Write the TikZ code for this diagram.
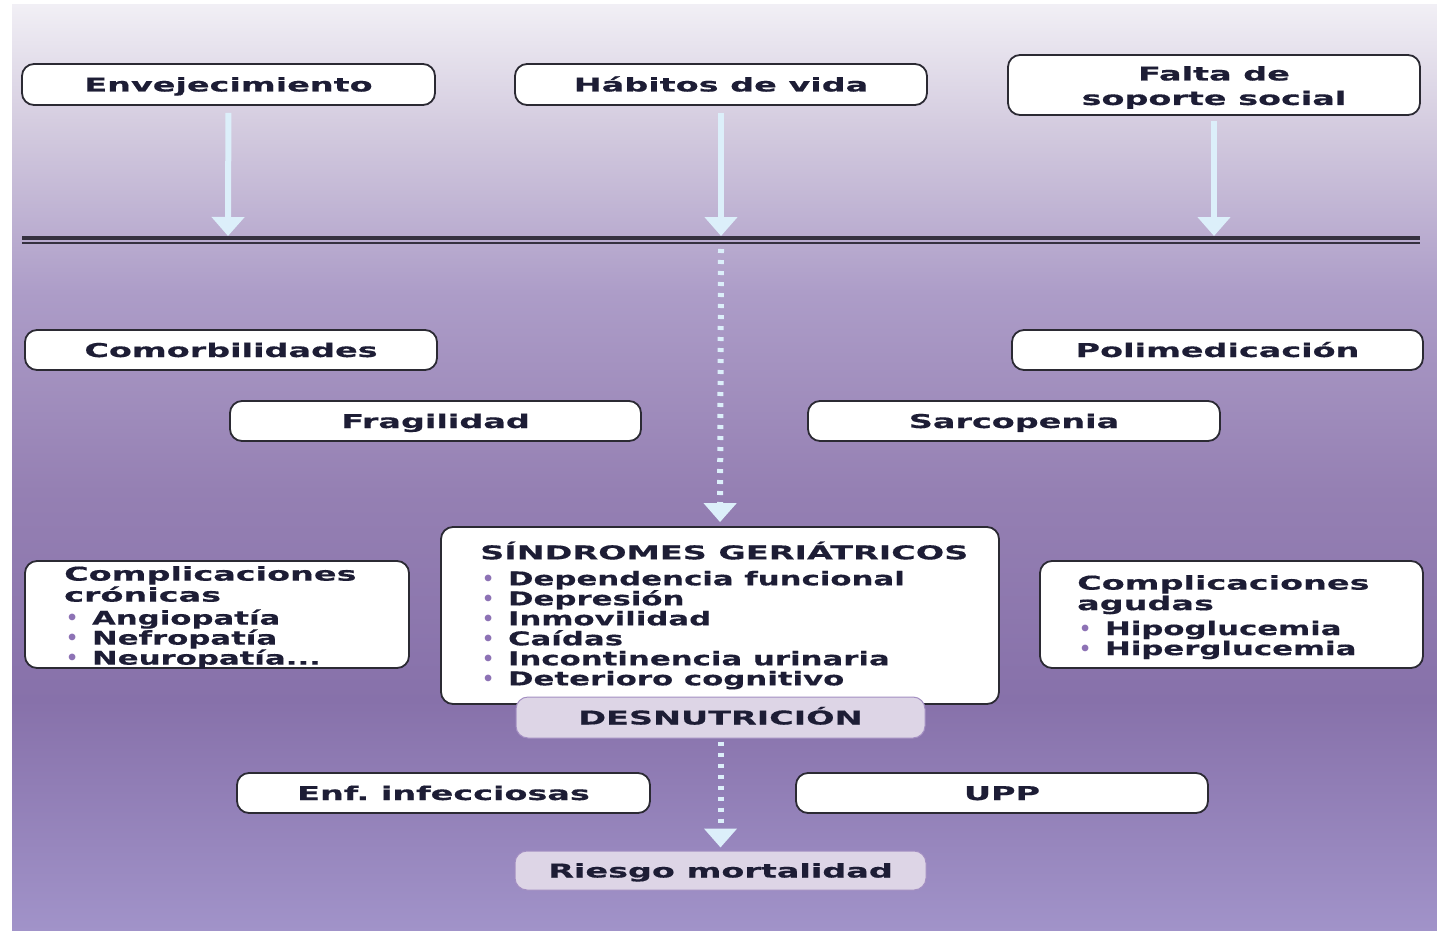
\documentclass[tikz,border=0pt]{standalone}
\usepackage{fontspec}
\setmainfont{DejaVu Sans}
\newfontfamily\headfont{DejaVu Sans}[FakeStretch=1.76, FakeBold=0.5]
\newfontfamily\itemfont{DejaVu Sans}[FakeStretch=1.62, FakeBold=0.3]
\usetikzlibrary{arrows.meta}
\frenchspacing

\definecolor{bgA}{HTML}{F1EFF5}
\definecolor{bgB}{HTML}{D5CDE0}
\definecolor{bgC}{HTML}{AD9DC8}
\definecolor{bgD}{HTML}{9580B3}
\definecolor{bgE}{HTML}{8771AA}
\definecolor{bgF}{HTML}{A193C9}
\definecolor{boxline}{HTML}{2B2A33}
\definecolor{ink}{HTML}{1D1D35}
\definecolor{bulc}{HTML}{8D72B5}
\definecolor{softfill}{HTML}{DDD5E6}
\definecolor{softline}{HTML}{A38FC2}
\definecolor{flowc}{HTML}{DCEFFA}
\definecolor{barc}{HTML}{35313F}

% list entry: purple bullet followed by the item text
\newcommand{\itm}[1]{\hspace{2pt}{\color{bulc}\fontspec{DejaVu Sans}\bfseries •}\hspace{0.72em}{\itemfont\bfseries #1}}

\tikzset{
  lbl/.style={font=\headfont\bfseries\fontsize{19}{20}\selectfont, text=ink},
  one/.style={text height=14pt, text depth=0pt},
  box/.style={lbl, draw=boxline, line width=1.8pt, fill=white,
    rounded corners=12pt, inner sep=0pt},
  softbox/.style={lbl, draw=softline, line width=1pt, fill=softfill,
    rounded corners=12pt, inner sep=0pt},
  txt/.style={lbl, inner sep=0pt, align=left, anchor=north west},
  flow/.style={draw=flowc, line width=6pt,
    -{Triangle[width=32pt,length=19pt]}},
  dotflow/.style={flow, dash pattern=on 4pt off 7pt}
}

\begin{document}
\begin{tikzpicture}[x=1pt,y=-1pt]
\useasboundingbox (0,0) rectangle (1437,931);
% page and graded backdrop
\fill[white] (0,0) rectangle (1437,931);
\shade[top color=bgA, bottom color=bgB] (12,5) rectangle (1437,121);
\shade[top color=bgB, bottom color=bgC] (12,120) rectangle (1437,291);
\shade[top color=bgC, bottom color=bgD] (12,290) rectangle (1437,491);
\shade[top color=bgD, bottom color=bgE] (12,490) rectangle (1437,701);
\shade[top color=bgE, bottom color=bgF] (12,700) rectangle (1437,931);

% top causes
\node[box, one, minimum width=413pt, minimum height=41pt] (env) at (228.5,84.5) {Envejecimiento};
\node[box, one, minimum width=412pt, minimum height=41pt] (hab) at (721,84.5) {Hábitos de vida};
\node[box, minimum width=412pt, minimum height=60pt] (falta) at (1214,85) {};
\node[lbl, align=center, inner sep=0pt] (faltat) at (1214,87.5)
  {Falta de\\[4.5pt]soporte social};

% separating double rule
\coordinate (barW) at (22,237.5);
\coordinate (barE) at (1420,237.5);
\draw[barc, line width=4pt] (barW) -- (barE);
\draw[barc, line width=2pt] ([yshift=-5.5pt]barW) -- ([yshift=-5.5pt]barE);
\coordinate (hitL) at (228,236);
\coordinate (hitM) at (721,236);
\coordinate (hitR) at (1214,236);
\coordinate (fromM) at (721,249);

\draw[flow, shorten <=7pt] (env) -- (hitL);
\draw[flow, shorten <=7pt] (hab) -- (hitM);
\draw[flow, shorten <=5pt] (falta) -- (hitR);

% middle factors
\node[box, one, minimum width=412pt, minimum height=40pt] (comor) at (231,350) {Comorbilidades};
\node[box, one, minimum width=411pt, minimum height=40pt] (polim) at (1217.5,350) {Polimedicación};
\node[box, one, minimum width=411pt, minimum height=40pt] (fragil) at (435.5,421) {Fragilidad};
\node[box, one, minimum width=412pt, minimum height=40pt] (sarco) at (1014,421) {Sarcopenia};

% central box
\node[box, minimum width=558pt, minimum height=177pt] (sind) at (720,615.5) {};
\node[txt] (sindt) at (480,541.5)
  {SÍNDROMES GERIÁTRICOS\\[6pt]
   \itm{Dependencia funcional}\\
   \itm{Depresión}\\
   \itm{Inmovilidad}\\
   \itm{Caídas}\\
   \itm{Incontinencia urinaria}\\
   \itm{Deterioro cognitivo}};

\draw[dotflow, shorten >=4pt] (fromM) -- (sind.north);

% side boxes
\node[box, minimum width=384pt, minimum height=107pt] (cron) at (217,614.5) {};
\node[txt] (cront) at (64,566)
  {Complicaciones\\[1pt]
   crónicas\\[3pt]
   \itm{Angiopatía}\\
   \itm{Nefropatía}\\
   \itm{Neuropatía...}};

\node[box, minimum width=383pt, minimum height=107pt] (agud) at (1231.5,614.5) {};
\node[txt] (agudt) at (1077,575)
  {Complicaciones\\[0.5pt]
   agudas\\[5pt]
   \itm{Hipoglucemia}\\
   \itm{Hiperglucemia}};

% outcome chain
\node[softbox, one, minimum width=409pt, minimum height=41pt] (desn) at (720.5,717.5) {DESNUTRICIÓN};
\node[box, one, minimum width=413pt, minimum height=40pt] (enf) at (443.5,793) {Enf. infecciosas};
\node[box, one, minimum width=412pt, minimum height=40pt] (upp) at (1002,793) {UPP};
\node[softbox, one, minimum width=411pt, minimum height=39pt] (riesgo) at (720.5,870.5) {Riesgo mortalidad};

\draw[dotflow, shorten <=3pt, shorten >=3pt] (desn) -- (riesgo);
\end{tikzpicture}
\end{document}
